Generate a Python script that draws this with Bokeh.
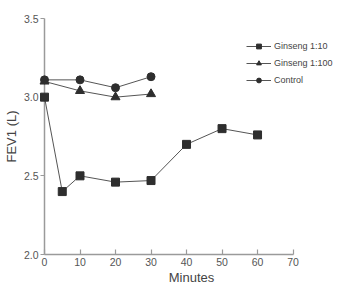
from bokeh.plotting import figure
from bokeh.models import Range1d, Legend, LegendItem, CustomJSTickFormatter
from bokeh.embed import file_html
from bokeh.resources import INLINE

# Data
x_g10 = [0, 5, 10, 20, 30, 40, 50, 60]
y_g10 = [3.00, 2.40, 2.50, 2.46, 2.47, 2.70, 2.80, 2.76]
x_g100 = [0, 10, 20, 30]
y_g100 = [3.10, 3.04, 3.00, 3.02]
x_ctrl = [0, 10, 20, 30]
y_ctrl = [3.11, 3.11, 3.06, 3.13]
x_ticks = [0, 10, 20, 30, 40, 50, 60, 70]
y_ticks = [2.0, 2.5, 3.0, 3.5]
labels = ["Ginseng 1:10", "Ginseng 1:100", "Control"]

FONT = "'Liberation Sans Narrow', 'Liberation Sans', Arial, sans-serif"
AX = "#9a9a9a"
DARK = "#2e2e2e"
LINE = "#555555"

p = figure(width=338, height=287, output_backend="svg", toolbar_location=None,
           x_range=Range1d(0, 82.8), y_range=Range1d(2.0, 3.5),
           min_border_left=41, min_border_right=0, min_border_top=18, min_border_bottom=30)
p.outline_line_color = None
p.xgrid.visible = False
p.ygrid.visible = False
p.background_fill_color = "white"

for ax in (p.xaxis[0], p.yaxis[0]):
    ax.axis_line_color = AX
    ax.axis_line_width = 1.5
    ax.major_tick_line_color = AX
    ax.major_tick_line_width = 1.2
    ax.minor_tick_line_color = None
    ax.major_label_text_font = FONT
    ax.major_label_text_font_size = "10.5px"
    ax.major_label_text_color = "#555555"
    ax.axis_label_text_font = FONT
    ax.axis_label_text_font_size = "13px"
    ax.axis_label_text_font_style = "normal"
    ax.axis_label_text_color = "#444444"

p.xaxis.bounds = (0, 70)
p.xaxis.ticker = x_ticks
p.yaxis.ticker = y_ticks
p.yaxis.formatter = CustomJSTickFormatter(code="return tick.toFixed(1);")
p.xaxis.major_tick_in = 5
p.xaxis.major_tick_out = 0
p.yaxis.major_tick_in = 0
p.yaxis.major_tick_out = 4
p.xaxis.major_label_standoff = 3
p.yaxis.major_label_standoff = 2
p.xaxis.axis_label = "Minutes"
p.yaxis.axis_label = "FEV1 (L)"
p.xaxis.axis_label_standoff = 1
p.yaxis.axis_label_standoff = 2

l1 = p.line(x_g10, y_g10, line_color=LINE, line_width=1, level="overlay")
m1 = p.scatter(x_g10, y_g10, marker="square", size=8, fill_color=DARK, line_color=DARK, level="overlay")
l2 = p.line(x_g100, y_g100, line_color=LINE, line_width=1, level="overlay")
m2 = p.scatter(x_g100, y_g100, marker="triangle", size=9, fill_color=DARK, line_color=DARK, level="overlay")
l3 = p.line(x_ctrl, y_ctrl, line_color=LINE, line_width=1, level="overlay")
m3 = p.scatter(x_ctrl, y_ctrl, marker="circle", size=8, fill_color=DARK, line_color=DARK, level="overlay")

legend = Legend(items=[LegendItem(label=labels[0], renderers=[l1, m1]),
                       LegendItem(label=labels[1], renderers=[l2, m2]),
                       LegendItem(label=labels[2], renderers=[l3, m3])],
                location=(202, 168), border_line_color=None, background_fill_alpha=0,
                padding=0, margin=0, spacing=5, glyph_width=25, glyph_height=12,
                label_height=12, label_standoff=3,
                label_text_font=FONT, label_text_font_size="9px", label_text_color="#444444")
p.add_layout(legend)

open("out.html", "w").write(file_html(p, INLINE))
